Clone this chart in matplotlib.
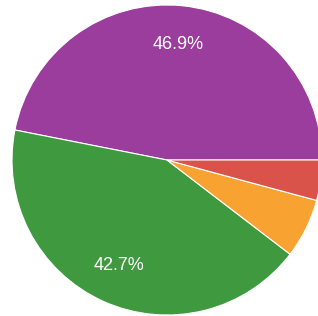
import matplotlib.pyplot as plt

# slice shares in percent, counterclockwise from 3 o'clock
labels = ['Purple', 'Green', 'Orange', 'Red']
shares = [46.9, 42.7, 6.2, 4.2]
colors = ['#9a3d9c', '#3f9a3f', '#f8a232', '#d9534a']

fig = plt.figure(figsize=(3.18, 3.16), dpi=100)
ax = fig.add_axes([0, 0, 1, 1])

def fmt(p):
    # small slices get no label
    return '%.1f%%' % p if p > 10 else ''

wedges, texts, autotexts = ax.pie(
    shares, colors=colors, startangle=0, counterclock=True,
    autopct=fmt, pctdistance=0.75,
    wedgeprops=dict(edgecolor='white', linewidth=0.8),
    textprops=dict(color='white', fontsize=13, family='Liberation Sans'))

# centre of the pie sits at (167, 160) px, radius ~155 px
ax.set_xlim(-167 / 155, (318 - 167) / 155)
ax.set_ylim(-(316 - 160) / 155, 160 / 155)
ax.set_aspect('auto')
ax.axis('off')

fig.savefig('out.png', dpi=100)
